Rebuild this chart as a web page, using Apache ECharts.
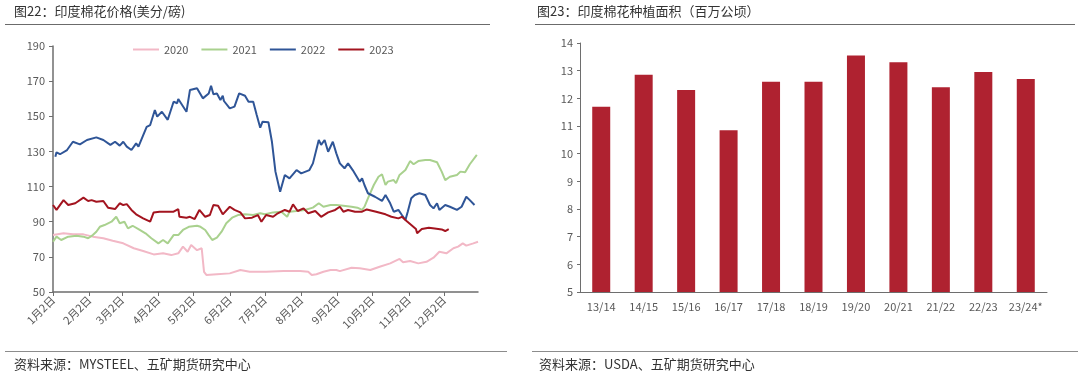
<!DOCTYPE html>
<html><head><meta charset="utf-8">
<script src="https://cdn.jsdelivr.net/npm/echarts@6/dist/echarts.min.js"></script>
<style>html,body{margin:0;padding:0;background:#fff}#c{width:1080px;height:378px}</style>
</head><body><div id="c"></div>
<script>
// ---- data: India cotton price (US cents/lb), [month, day, value] ----
const s2020 = [[1,2,82.4],[1,11,83.4],[1,19,82.8],[1,28,82.8],[2,5,81.5],[2,14,80.6],[2,22,79.2],[3,3,77.7],[3,12,74.9],[3,20,73.3],[3,29,71.4],[4,6,72],[4,13,71],[4,19,72],[4,23,75.8],[4,27,72.9],[4,30,76.7],[5,5,73.8],[5,9,74.9],[5,11,61.5],[5,13,59.7],[5,22,60.1],[6,2,60.6],[6,11,62.5],[6,19,61.5],[7,3,61.5],[7,18,61.9],[8,1,61.9],[8,8,61.5],[8,11,59.7],[8,15,60.1],[8,21,61.5],[8,27,62.5],[9,1,62.5],[9,4,61.9],[9,14,63.8],[9,21,63.5],[9,30,62.5],[10,8,64.4],[10,17,66.3],[10,25,68.8],[10,28,66.9],[11,3,67.6],[11,10,66.3],[11,17,67.2],[11,23,69.5],[11,28,72.9],[12,4,72],[12,10,74.9],[12,14,75.8],[12,18,77.7],[12,21,76.4],[12,27,77.7],[12,31,78.6]];
const s2021 = [[1,2,78.6],[1,5,81.5],[1,9,79.6],[1,15,81.5],[1,22,82],[1,28,81.5],[2,1,80.6],[2,5,82.4],[2,8,84.3],[2,11,87.1],[2,15,88.1],[2,21,90],[2,25,92.8],[2,28,89.1],[3,4,90],[3,7,86.2],[3,11,87.7],[3,16,85.8],[3,22,83.4],[3,27,80.6],[4,2,77.7],[4,6,79.6],[4,10,77.7],[4,15,82.4],[4,19,82.4],[4,23,85.3],[4,28,87.1],[5,5,87.7],[5,8,87.1],[5,12,85.3],[5,15,82.4],[5,18,79.6],[5,22,80.9],[5,26,84.3],[5,30,89.1],[6,4,92.3],[6,9,93.8],[6,15,94.2],[6,22,93.8],[6,28,94.8],[7,2,94.2],[7,9,95.3],[7,16,95.7],[7,21,92.8],[7,23,95.7],[7,29,96.1],[8,5,96.7],[8,12,98],[8,17,100.5],[8,21,98.5],[8,27,99.5],[9,1,99.5],[9,7,99.1],[9,14,98.5],[9,19,98],[9,23,96.7],[9,25,98.5],[9,28,103.3],[10,3,110.9],[10,7,115.6],[10,10,117],[10,13,110.9],[10,15,112.8],[10,20,113.7],[10,22,111.9],[10,25,116.6],[10,30,119.4],[11,3,124.5],[11,6,122.7],[11,10,124.5],[11,16,125.1],[11,20,125.1],[11,26,123.8],[11,30,118.5],[12,3,113.7],[12,7,115.6],[12,13,116.6],[12,16,118.5],[12,20,118.1],[12,24,122.7],[12,30,128]];
const s2022 = [[1,4,127],[1,5,129.5],[1,8,128.4],[1,14,130.8],[1,19,135.5],[1,25,134],[1,31,136.5],[2,8,138],[2,14,136.5],[2,20,133.7],[2,24,135.5],[2,28,133.3],[3,3,135.5],[3,6,132.7],[3,10,130.8],[3,14,134.6],[3,16,132.7],[3,23,144],[3,26,145],[3,30,153.6],[4,1,149.8],[4,5,152.6],[4,10,148],[4,15,158.3],[4,18,157.4],[4,19,159.8],[4,26,152.6],[4,29,165],[5,5,166],[5,10,160.2],[5,15,163],[5,17,167.4],[5,19,162.5],[5,22,163],[5,25,159.3],[5,27,161.7],[5,28,158.7],[6,2,154.5],[6,6,155.5],[6,10,163],[6,15,161.7],[6,18,158.3],[6,22,158.3],[6,25,150.7],[6,28,143.5],[6,30,146.9],[7,5,146.6],[7,8,135.5],[7,11,118.5],[7,15,107.1],[7,19,116.6],[7,23,114.7],[7,29,119.4],[8,2,117.5],[8,9,119.4],[8,12,123.2],[8,17,136.5],[8,19,133.7],[8,22,136.5],[8,25,129.8],[8,29,135.5],[9,1,128.9],[9,4,123.2],[9,8,120.4],[9,11,123.2],[9,15,119.4],[9,21,112.8],[9,23,114.7],[9,25,110.9],[9,28,106.2],[10,4,104.2],[10,10,101.8],[10,13,105.2],[10,17,100.5],[10,20,95.7],[10,24,96.7],[10,27,93.8],[10,30,91],[11,1,95.7],[11,4,103.3],[11,7,105.2],[11,11,106.2],[11,16,105.2],[11,20,99.5],[11,23,97.6],[11,26,100.5],[11,28,96.7],[12,3,99.5],[12,7,98.5],[12,13,96.7],[12,17,98.5],[12,21,104.2],[12,24,102.3],[12,28,99.5]];
const s2023 = [[1,2,99.5],[1,5,96.7],[1,11,102.3],[1,15,99.5],[1,21,100.5],[1,28,103.7],[2,1,101.8],[2,4,102.3],[2,8,101.4],[2,14,101.8],[2,18,98],[2,24,97.2],[2,28,100.5],[3,3,99.5],[3,6,100],[3,10,96.7],[3,14,94.2],[3,20,91.9],[3,26,90],[3,29,95.3],[4,3,95.7],[4,9,95.7],[4,15,95.7],[4,19,97.2],[4,20,92.8],[4,26,92.3],[4,29,92.8],[5,3,91.5],[5,7,96.7],[5,12,92.8],[5,16,93.8],[5,19,99.5],[5,23,99.1],[5,27,94.2],[6,2,98.5],[6,6,96.7],[6,11,95.3],[6,15,91.9],[6,21,92.3],[6,26,93.8],[6,29,90],[7,3,93.8],[7,9,92.8],[7,13,94.8],[7,19,96.7],[7,23,95.7],[7,26,99.9],[7,30,96.1],[8,4,97.6],[8,8,94.8],[8,14,96.1],[8,19,92.8],[8,25,95.3],[8,31,96.7],[9,4,98.5],[9,7,95.7],[9,11,96.7],[9,17,95.7],[9,23,95.7],[9,27,97],[10,5,95.7],[10,13,94.2],[10,18,92.8],[10,24,91.9],[10,27,92.8],[10,31,90.4],[11,4,88.1],[11,8,85.8],[11,9,83.4],[11,13,85.8],[11,19,86.6],[11,24,86.2],[11,30,85.6],[12,3,84.7],[12,6,85.8]];
const priceNames = ['2020','2021','2022','2023'];
const priceTicks = [50,70,90,110,130,150,170,190];

// ---- data: India cotton planted area (million ha) ----
const areaSeasons = ['13/14','14/15','15/16','16/17','17/18','18/19','19/20','20/21','21/22','22/23','23/24*'];
const areaValues = [11.7,12.85,12.3,10.85,12.6,12.6,13.55,13.3,12.4,12.95,12.7];

// ---- build day categories (1月2日 .. 12月31日) ----
const dayCats = [];
for (let t = new Date(2023,0,2); t.getFullYear() === 2023; t.setDate(t.getDate()+1)) {
  dayCats.push((t.getMonth()+1)+'月'+t.getDate()+'日');
}
const toPts = arr => arr.map(p => [dayCats.indexOf(p[0]+'月'+p[1]+'日'), p[2]]);
const isTick = (i, v) => /月2日$/.test(v);

const FONT = 'Noto Sans CJK SC';
const axisGrey = '#6e6e6e';
const labelGrey = '#595959';
const colors = ['#F2B8C6','#A9D18E','#2F5597','#A3141F'];

const chart = echarts.init(document.getElementById('c'));
chart.setOption({
  animation: false,
  textStyle: {fontFamily: FONT},
  legend: {
    left: 128, top: 39, itemWidth: 26, itemHeight: 2, itemGap: 13, icon: 'rect',
    textStyle: {color: labelGrey, fontSize: 11, fontFamily: FONT},
    data: priceNames
  },
  grid: [
    {left: 53, top: 46, width: 425, height: 246},
    {left: 580, top: 43, width: 467, height: 249}
  ],
  xAxis: [
    {gridIndex: 0, type: 'category', data: dayCats, boundaryGap: false,
     axisLine: {lineStyle: {color: axisGrey, width: 1.5}},
     axisTick: {interval: isTick, length: 4, lineStyle: {color: axisGrey}},
     axisLabel: {interval: isTick, rotate: 45, color: labelGrey, fontSize: 11, margin: 6}},
    {gridIndex: 1, type: 'category', data: areaSeasons,
     axisLine: {lineStyle: {color: axisGrey, width: 1}},
     axisTick: {length: 4, lineStyle: {color: axisGrey}},
     axisLabel: {interval: 0, color: labelGrey, fontSize: 11, margin: 9}}
  ],
  yAxis: [
    {gridIndex: 0, type: 'value', min: priceTicks[0], max: priceTicks[priceTicks.length-1], interval: 20,
     axisLine: {show: true, lineStyle: {color: axisGrey, width: 1.5}},
     axisTick: {show: true, length: 4, lineStyle: {color: axisGrey}},
     splitLine: {show: false},
     axisLabel: {color: labelGrey, fontSize: 11, margin: 8}},
    {gridIndex: 1, type: 'value', min: 5, max: 14, interval: 1,
     axisLine: {show: true, lineStyle: {color: axisGrey, width: 1}},
     axisTick: {show: true, length: 3, lineStyle: {color: axisGrey}},
     splitLine: {show: false},
     axisLabel: {color: labelGrey, fontSize: 11, margin: 7}}
  ],
  series: [
    {name: priceNames[0], type: 'line', xAxisIndex: 0, yAxisIndex: 0, data: toPts(s2020), showSymbol: false, symbol: 'none', lineStyle: {width: 2, color: colors[0]}, itemStyle: {color: colors[0]}},
    {name: priceNames[1], type: 'line', xAxisIndex: 0, yAxisIndex: 0, data: toPts(s2021), showSymbol: false, symbol: 'none', lineStyle: {width: 2, color: colors[1]}, itemStyle: {color: colors[1]}},
    {name: priceNames[2], type: 'line', xAxisIndex: 0, yAxisIndex: 0, data: toPts(s2022), showSymbol: false, symbol: 'none', lineStyle: {width: 2, color: colors[2]}, itemStyle: {color: colors[2]}},
    {name: priceNames[3], type: 'line', xAxisIndex: 0, yAxisIndex: 0, data: toPts(s2023), showSymbol: false, symbol: 'none', lineStyle: {width: 2, color: colors[3]}, itemStyle: {color: colors[3]}},
    {name: '种植面积', type: 'bar', xAxisIndex: 1, yAxisIndex: 1, data: areaValues, barWidth: 18, itemStyle: {color: '#AF2230'}}
  ],
  graphic: [
    {type: 'text', left: 14, top: 5, style: {text: '图22：印度棉花价格(美分/磅)', font: '13px "Noto Sans CJK SC"', fill: '#333'}},
    {type: 'text', left: 537, top: 5, style: {text: '图23：印度棉花种植面积（百万公顷）', font: '13px "Noto Sans CJK SC"', fill: '#333'}},
    {type: 'line', shape: {x1: 5, y1: 24.5, x2: 490, y2: 24.5}, style: {stroke: '#6b6b6b', lineWidth: 1}},
    {type: 'line', shape: {x1: 535, y1: 24.5, x2: 1075, y2: 24.5}, style: {stroke: '#6b6b6b', lineWidth: 1}},
    {type: 'line', shape: {x1: 5, y1: 351.5, x2: 507, y2: 351.5}, style: {stroke: '#8c8c8c', lineWidth: 1}},
    {type: 'line', shape: {x1: 532, y1: 351.5, x2: 1078, y2: 351.5}, style: {stroke: '#8c8c8c', lineWidth: 1}},
    {type: 'text', left: 14, top: 358, style: {text: '资料来源：MYSTEEL、五矿期货研究中心', font: '13px "Noto Sans CJK SC"', fill: '#333'}},
    {type: 'text', left: 539, top: 358, style: {text: '资料来源：USDA、五矿期货研究中心', font: '13px "Noto Sans CJK SC"', fill: '#333'}}
  ]
});
</script></body></html>
